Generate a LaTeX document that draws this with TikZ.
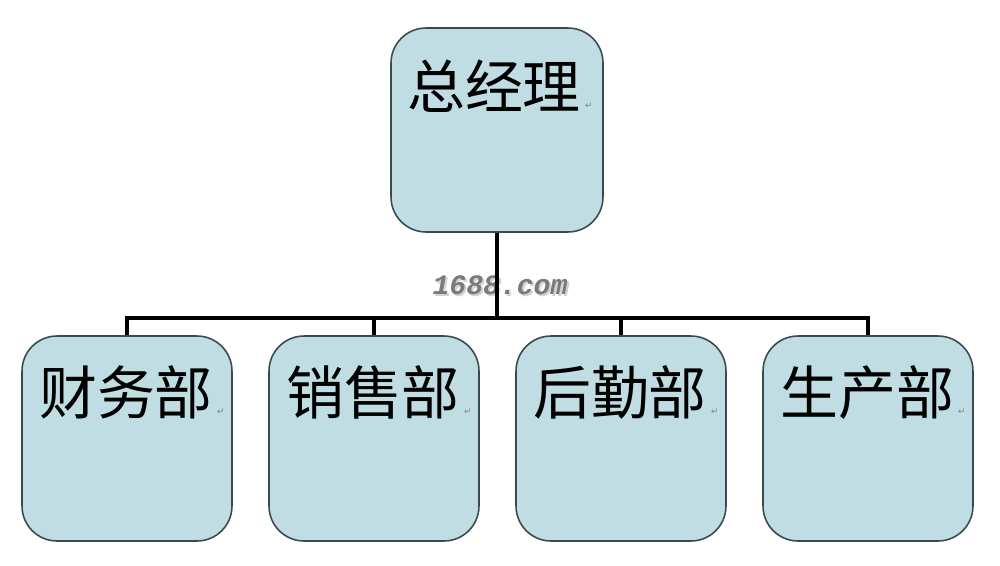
\documentclass[tikz,border=0pt]{standalone}
\usepackage{fontspec}
\newfontfamily\cjk{Noto Sans CJK SC}
\newfontfamily\dejavu{DejaVu Sans}
\newfontfamily\wmfont{Liberation Mono}
\definecolor{boxfill}{HTML}{BFDDE3}
\definecolor{boxline}{HTML}{3A4A4E}
\definecolor{wm}{HTML}{7A7A7A}
\tikzset{
  orgbox/.style={draw=boxline, line width=0.9pt, fill=boxfill, rounded corners=0.7cm, minimum width=4.2cm, minimum height=4.1cm, inner sep=0pt},
  boxtext/.style={font=\cjk\fontsize{33}{36}\selectfont, inner sep=0pt, anchor=base},
  pmark/.style={font=\dejavu\fontsize{5}{6}\selectfont, text=gray, inner sep=0pt, anchor=base west},
  conn/.style={draw=black, line width=2.3pt},
  watermark/.style={font=\wmfont\bfseries\itshape\fontsize{16}{18}\selectfont, text=wm, inner sep=0pt}
}
\begin{document}
\begin{tikzpicture}[x=0.02cm,y=-0.02cm]
\useasboundingbox (0,0) rectangle (1000,565);
\fill[white] (0,0) rectangle (1000,565);
% boxes
\node[orgbox, minimum width=4.24cm, minimum height=4.08cm] (top) at (497,130) {};
\node[orgbox] (b1) at (127,438.5) {};
\node[orgbox] (b2) at (374,438.5) {};
\node[orgbox] (b3) at (621,438.5) {};
\node[orgbox] (b4) at (868,438.5) {};
% texts
\node[boxtext] (t0) at (494,108) {总经理};
\node[pmark] (p0) at ([xshift=2pt]t0.base east) {↵};
\node[boxtext] (t1) at (126,414) {财务部};
\node[pmark] (p1) at ([xshift=2pt]t1.base east) {↵};
\node[boxtext] (t2) at (373,414) {销售部};
\node[pmark] (p2) at ([xshift=2pt]t2.base east) {↵};
\node[boxtext] (t3) at (620,414) {后勤部};
\node[pmark] (p3) at ([xshift=2pt]t3.base east) {↵};
\node[boxtext] (t4) at (867,414) {生产部};
\node[pmark] (p4) at ([xshift=2pt]t4.base east) {↵};
% watermark
\node[watermark, text=gray!35] (wms) at (502,287) {1688.com};
\node[watermark] (wmk) at (500,285) {1688.com};
% connectors
\coordinate (bus) at (497,318);
\draw[conn] (top.south) -- (top.south |- bus);
\draw[conn] (b1.north) |- (bus) -| (b4.north);
\draw[conn] (b2.north) -- (b2.north |- bus);
\draw[conn] (b3.north) -- (b3.north |- bus);
\end{tikzpicture}
\end{document}
